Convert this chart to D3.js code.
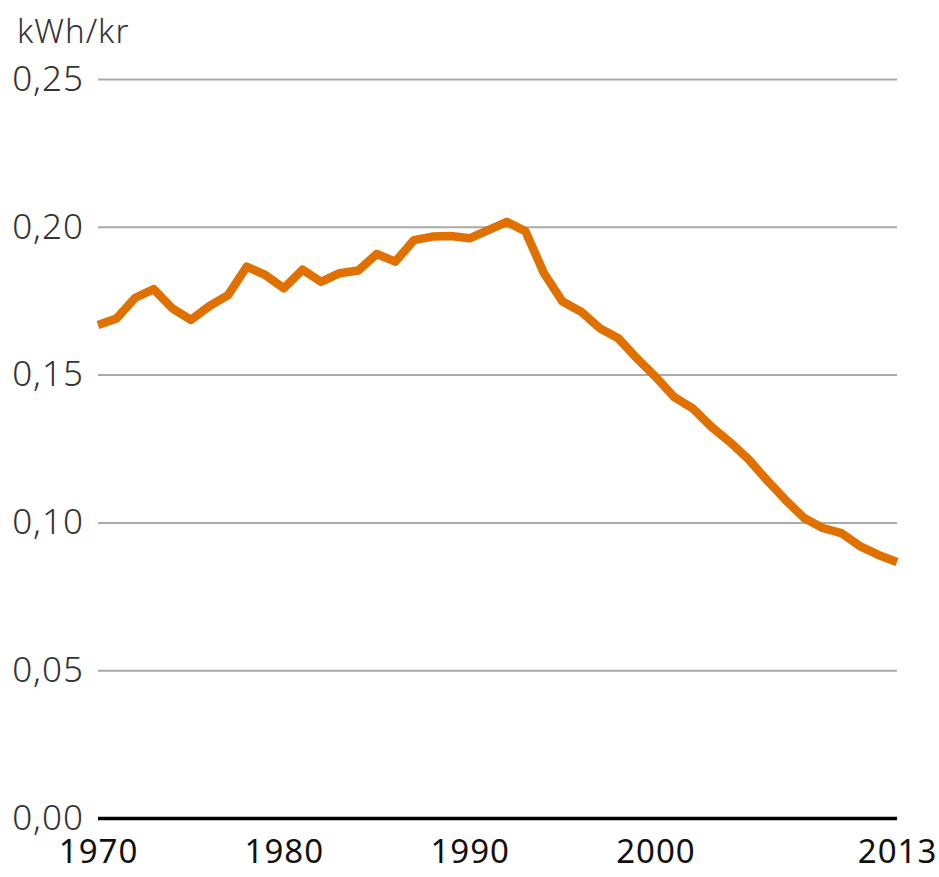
<html>
<head>
  <style>
    body { margin: 0; background: white; font-family: "Noto Sans", "DejaVu Sans", sans-serif; }
  </style>
</head>
<body>
  <svg id="chart"></svg>
  <script src="https://cdn.jsdelivr.net/npm/d3@7"></script>
  <script>
    // data
    var years = d3.range(1970, 2014);
    var values = [
      0.1668, 0.1690, 0.1760, 0.1789, 0.1724, 0.1685, 0.1732, 0.1769, 0.1865, 0.1837,
      0.1792, 0.1855, 0.1814, 0.1843, 0.1852, 0.1908, 0.1882, 0.1955, 0.1967, 0.1969,
      0.1961, 0.1989, 0.2017, 0.1985, 0.1843, 0.1747, 0.1713, 0.1657, 0.1623, 0.1555,
      0.1493, 0.1425, 0.1386, 0.1324, 0.1272, 0.1214, 0.1143, 0.1076, 0.1015, 0.0981,
      0.0964, 0.0920, 0.0890, 0.0866
    ];
    var yTicks = [0, 0.05, 0.10, 0.15, 0.20, 0.25];
    var xTicks = [1970, 1980, 1990, 2000, 2013];
    var unitLabel = "kWh/kr";

    var width = 939, height = 877;
    var svg = d3.select("#chart").attr("width", width).attr("height", height);

    var x = d3.scaleLinear().domain([1970, 2013]).range([98, 897]);
    var y = d3.scaleLinear().domain([0, 0.25]).range([818, 79]);

    var sv = d3.formatLocale({ decimal: ",", thousands: " ", grouping: [3], currency: ["", " kr"] });
    var fmt = sv.format(".2f");

    // gridlines + y labels
    var yAxis = svg.append("g")
      .attr("transform", "translate(" + x.range()[0] + ",0)")
      .call(d3.axisLeft(y)
        .tickValues(yTicks)
        .tickFormat(fmt)
        .tickSize(-(x.range()[1] - x.range()[0]))
        .tickPadding(14));
    yAxis.select(".domain").remove();
    yAxis.selectAll(".tick line")
      .attr("stroke", function(d){ return d === 0 ? "#000" : "#aaa"; })
      .attr("stroke-width", function(d){ return d === 0 ? 3.5 : 2; });
    yAxis.selectAll(".tick text")
      .attr("font-family", "'Noto Sans', sans-serif")
      .attr("font-weight", 300)
      .attr("font-size", "35px")
      .attr("letter-spacing", "1px")
      .attr("fill", "#333");

    // x labels
    var xAxis = svg.append("g")
      .attr("transform", "translate(0," + y(0) + ")")
      .call(d3.axisBottom(x).tickValues(xTicks).tickFormat(d3.format("d")).tickSize(0).tickPadding(22));
    xAxis.select(".domain").remove();
    xAxis.selectAll(".tick text")
      .attr("font-family", "'Noto Sans', sans-serif")
      .attr("font-size", "33px")
      .attr("letter-spacing", "1px")
      .attr("fill", "#111");

    // unit label
    svg.append("text")
      .attr("x", 17)
      .attr("y", 43)
      .attr("font-family", "'Noto Sans', sans-serif")
      .attr("font-weight", 300)
      .attr("font-size", "33px")
      .attr("letter-spacing", "1px")
      .attr("fill", "#333")
      .text(unitLabel);

    // the line
    var line = d3.line()
      .x(function(d, i){ return x(years[i]); })
      .y(function(d){ return y(d); });
    svg.append("path")
      .datum(values)
      .attr("fill", "none")
      .attr("stroke", "#e07000")
      .attr("stroke-width", 8.5)
      .attr("stroke-linejoin", "round")
      .attr("d", line);
  </script>
</body>
</html>
